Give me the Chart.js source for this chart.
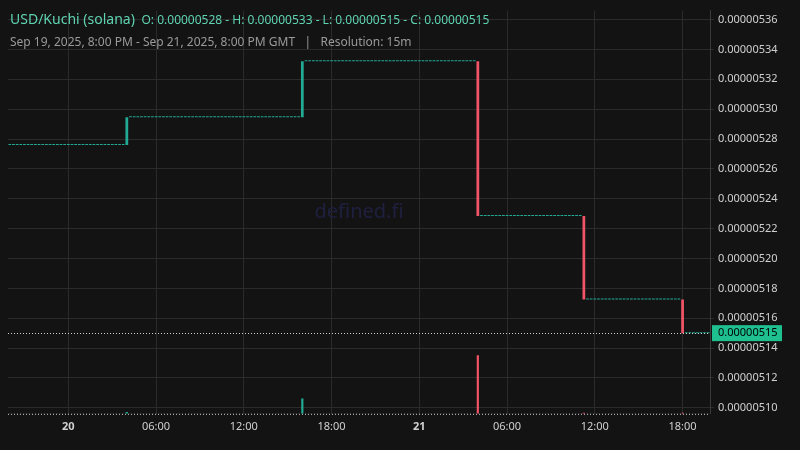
<!DOCTYPE html>
<html>
<head>
<meta charset="utf-8">
<script src="https://cdn.jsdelivr.net/npm/chart.js@4.4.1/dist/chart.umd.min.js"></script>
<style>
  html, body { margin: 0; padding: 0; background: #131313; }
  #wrap { position: relative; width: 800px; height: 450px; }
  #title { position: absolute; left: 10px; top: 9px; font-family: "Noto Sans", sans-serif; color: #5fd3b0; font-size: 14px; }
  #title small { font-size: 12px; margin-left: 3px; }
  #sub { position: absolute; left: 10px; top: 33px; font-family: "Noto Sans", sans-serif; color: #9a9a9a; font-size: 12px; }
</style>
</head>
<body>
<div id="wrap">
  <canvas id="chart" width="800" height="450"></canvas>
  <div id="title">USD/Kuchi (solana) <small>O: 0.00000528 - H: 0.00000533 - L: 0.00000515 - C: 0.00000515</small></div>
  <div id="sub">Sep 19, 2025, 8:00 PM - Sep 21, 2025, 8:00 PM GMT &nbsp;&nbsp;|&nbsp;&nbsp; Resolution: 15m</div>
</div>
<script>
// Price levels (flat runs) and the candle index where each run starts (15m candles from Sep 19 20:00)
const levels = [0.000005276, 0.0000052945, 0.000005332, 0.0000052285, 0.0000051725, 0.00000515];
const runStarts = [0, 32, 80, 128, 157, 184];
const candleCount = 192;
// Volume spikes at the jump candles, baseline volume elsewhere
const spikeIndex = [32, 80, 128, 157, 184];
const spikeVolume = [3, 26, 100, 2, 2];
const baseVolume = 0.4;
const yTicks = [510, 512, 514, 516, 518, 520, 522, 524, 526, 528, 530, 532, 534, 536];
const lastPrice = 0.00000515;

const labels = [];
const opens = [];
const closes = [];
const volumes = [];
const start = Date.UTC(2025, 8, 19, 20, 0);
let run = 0;
for (let i = 0; i < candleCount; i++) {
    labels.push(new Date(start + i * 15 * 60000));
    if (run + 1 < runStarts.length && runStarts[run + 1] === i) run++;
    const c = levels[run];
    const o = (runStarts[run] === i && run > 0) ? levels[run - 1] : c;
    opens.push(o);
    closes.push(c);
    const k = spikeIndex.indexOf(i);
    volumes.push(k >= 0 ? spikeVolume[k] : baseVolume);
}
const up = '#22ab94', down = '#f05466';
const candleColors = opens.map((o, i) => closes[i] >= o ? up : down);
const volColors = opens.map((o, i) => closes[i] > o ? up : (closes[i] < o ? down : '#5a5a5a'));

const overlay = {
    id: 'overlay',
    beforeDatasetsDraw(chart) {
        const { ctx, chartArea: a } = chart;
        ctx.save();
        ctx.font = '20px "Noto Sans"';
        ctx.fillStyle = '#1f2040';
        ctx.textAlign = 'center';
        ctx.textBaseline = 'middle';
        ctx.fillText('defined.fi', (a.left + a.right) / 2, (a.top + a.bottom) / 2);
        ctx.restore();
    },
    afterDatasetsDraw(chart) {
        const { ctx, chartArea: a } = chart;
        const y = chart.scales.y.getPixelForValue(lastPrice);
        ctx.save();
        ctx.strokeStyle = '#cfcfcf';
        ctx.setLineDash([1, 2]);
        ctx.beginPath();
        ctx.moveTo(a.left, Math.round(y) + 0.5);
        ctx.lineTo(a.right, Math.round(y) + 0.5);
        ctx.moveTo(a.left, a.bottom + 0.5);
        ctx.lineTo(a.right, a.bottom + 0.5);
        ctx.stroke();
        ctx.setLineDash([]);
        ctx.fillStyle = '#1fc08f';
        ctx.fillRect(a.right + 2, y - 8, 70, 16);
        ctx.fillStyle = '#000';
        ctx.font = '11px "Noto Sans"';
        ctx.textBaseline = 'middle';
        ctx.fillText(lastPrice.toFixed(8), a.right + 8, y);
        ctx.restore();
    }
};

new Chart(document.getElementById('chart').getContext('2d'), {
    type: 'bar',
    data: {
        labels: labels,
        datasets: [
            {
                data: opens.map((o, i) => [o, closes[i]]),
                backgroundColor: candleColors,
                minBarLength: 1,
                yAxisID: 'y',
                barPercentage: 0.75,
                categoryPercentage: 1,
                grouped: false
            },
            {
                data: volumes,
                backgroundColor: volColors,
                yAxisID: 'v',
                barPercentage: 0.6,
                categoryPercentage: 1,
                grouped: false
            }
        ]
    },
    options: {
        responsive: false,
        animation: false,
        layout: { padding: { top: 8, left: 8, bottom: 11 } },
        plugins: { legend: { display: false }, tooltip: { enabled: false } },
        scales: {
            x: {
                grid: { color: '#2b2b2b', drawTicks: false, offset: false },
                border: { display: false },
                ticks: {
                    autoSkip: false,
                    maxRotation: 0,
                    padding: 6,
                    color: '#d0d0d0',
                    font: (c) => {
                        const d = c.tick ? labels[c.tick.value] : null;
                        return { family: 'Noto Sans', size: 11, weight: d && d.getUTCHours() === 0 ? 'bold' : 'normal' };
                    },
                    callback: function (val, i) {
                        const d = labels[i];
                        if (d.getUTCMinutes() !== 0 || d.getUTCHours() % 6 !== 0) return null;
                        const h = d.getUTCHours();
                        if (h === 0) return String(d.getUTCDate());
                        return String(h).padStart(2, '0') + ':00';
                    }
                }
            },
            y: {
                position: 'right',
                min: 0.000005096,
                max: 0.000005366,
                grid: { color: '#2b2b2b', drawTicks: true, tickLength: 4 },
                border: { color: '#3a3a3a' },
                afterBuildTicks: (s) => { s.ticks = yTicks.map(v => ({ value: v / 1e8 })); },
                afterFit: (s) => { s.width = 90; },
                ticks: {
                    color: '#d0d0d0',
                    font: { family: 'Noto Sans', size: 11 },
                    padding: 4,
                    callback: (v) => v.toFixed(8)
                }
            },
            v: {
                display: false,
                min: 0,
                max: 690
            }
        }
    },
    plugins: [overlay]
});
</script>
</body>
</html>
